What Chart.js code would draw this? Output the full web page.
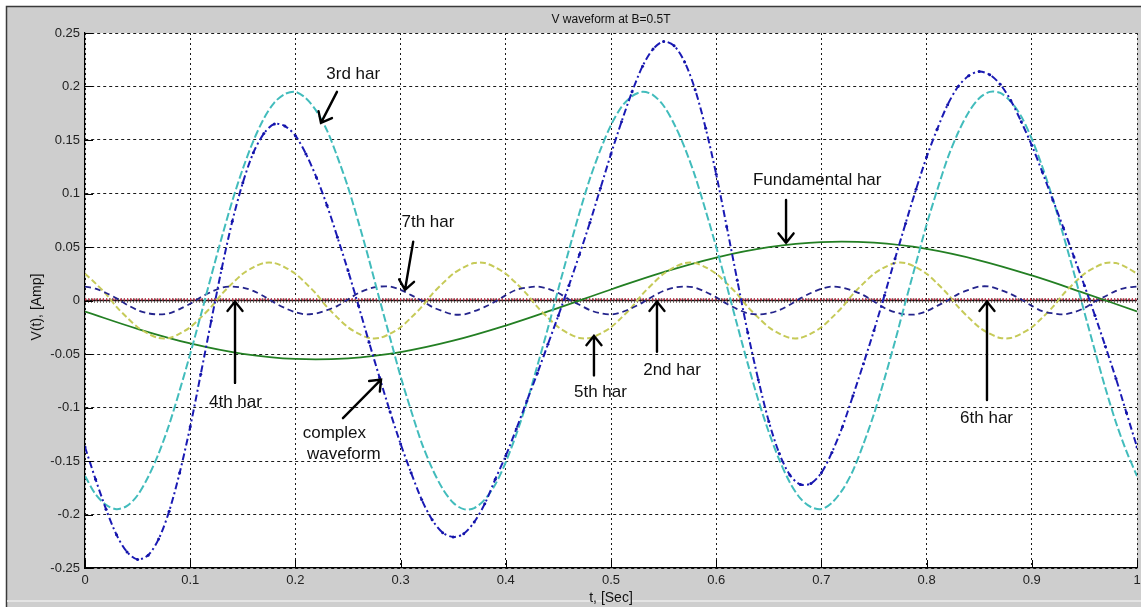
<!DOCTYPE html>
<html>
<head>
<meta charset="utf-8">
<title>V waveform at B=0.5T</title>
<script src="https://cdn.jsdelivr.net/npm/chart.js@4.4.1/dist/chart.umd.min.js"></script>
<style>
  html, body { margin: 0; padding: 0; background: #fff; overflow: hidden; }
  #wrap { position: relative; width: 1141px; height: 607px; }
</style>
</head>
<body>
<div id="wrap"><canvas id="c" width="1141" height="607"></canvas></div>
<script>
// Sample times, seconds
const tFine = [0,0.01,0.02,0.03,0.04,0.05,0.06,0.07,0.08,0.09,0.1,0.11,0.12,0.13,0.14,0.15,0.16,0.17,0.18,0.19,
  0.2,0.21,0.22,0.23,0.24,0.25,0.26,0.27,0.28,0.29,0.3,0.31,0.32,0.33,0.34,0.35,0.36,0.37,0.38,0.39,
  0.4,0.41,0.42,0.43,0.44,0.45,0.46,0.47,0.48,0.49,0.5,0.51,0.52,0.53,0.54,0.55,0.56,0.57,0.58,0.59,
  0.6,0.61,0.62,0.63,0.64,0.65,0.66,0.67,0.68,0.69,0.7,0.71,0.72,0.73,0.74,0.75,0.76,0.77,0.78,0.79,
  0.8,0.81,0.82,0.83,0.84,0.85,0.86,0.87,0.88,0.89,0.9,0.91,0.92,0.93,0.94,0.95,0.96,0.97,0.98,0.99,1];
const tMid = [0,0.05,0.1,0.15,0.2,0.25,0.3,0.35,0.4,0.45,0.5,0.55,0.6,0.65,0.7,0.75,0.8,0.85,0.9,0.95,1];
const tCoarse = [0,0.1,0.2,0.3,0.4,0.5,0.6,0.7,0.8,0.9,1];

// Complex waveform, Amp
const complexWave = [-0.137,-0.167,-0.195,-0.219,-0.235,-0.242,-0.238,-0.223,-0.197,-0.161,
  -0.118,-0.069,-0.019,0.030,0.074,0.110,0.138,0.156,0.165,0.163,
  0.154,0.137,0.115,0.089,0.059,0.028,-0.005,-0.039,-0.072,-0.104,
  -0.134,-0.161,-0.186,-0.205,-0.217,-0.221,-0.218,-0.207,-0.190,-0.167,
  -0.145,-0.120,-0.094,-0.068,-0.041,-0.014,0.014,0.043,0.073,0.105,
  0.137,0.167,0.195,0.219,0.235,0.242,0.238,0.223,0.197,0.161,
  0.118,0.069,0.019,-0.030,-0.074,-0.113,-0.143,-0.163,-0.172,-0.171,
  -0.161,-0.142,-0.118,-0.089,-0.059,-0.028,0.005,0.039,0.072,0.104,
  0.134,0.160,0.183,0.200,0.210,0.214,0.211,0.202,0.187,0.167,
  0.145,0.120,0.094,0.068,0.041,0.014,-0.014,-0.043,-0.073,-0.105,-0.137];

// Fundamental harmonic (on tMid)
const har1 = [-0.0103,-0.0265,-0.0401,-0.0498,-0.0546,-0.0540,-0.0482,-0.0376,-0.0234,-0.0069,
  0.0103,0.0265,0.0401,0.0498,0.0546,0.0540,0.0482,0.0376,0.0234,0.0069,-0.0103];

// 3rd harmonic
const har3 = [-0.164,-0.181,-0.191,-0.195,-0.192,-0.182,-0.165,-0.143,-0.116,-0.084,
  -0.050,-0.014,0.023,0.059,0.093,0.123,0.149,0.170,0.185,0.193,
  0.195,0.189,0.177,0.159,0.134,0.106,0.073,0.038,0.001,-0.035,
  -0.071,-0.103,-0.133,-0.157,-0.176,-0.189,-0.195,-0.194,-0.186,-0.172,
  -0.151,-0.125,-0.095,-0.061,-0.026,0.011,0.047,0.082,0.114,0.141,
  0.164,0.181,0.191,0.195,0.192,0.182,0.165,0.143,0.116,0.084,
  0.050,0.014,-0.023,-0.059,-0.093,-0.123,-0.149,-0.170,-0.185,-0.193,
  -0.195,-0.189,-0.177,-0.159,-0.134,-0.106,-0.073,-0.038,-0.001,0.035,
  0.071,0.103,0.133,0.157,0.176,0.189,0.195,0.194,0.186,0.172,
  0.151,0.125,0.095,0.061,0.026,-0.011,-0.047,-0.082,-0.114,-0.141,-0.164];

// 5th harmonic
const har5 = [0.025,0.016,0.006,-0.006,-0.016,-0.025,-0.031,-0.035,-0.035,-0.031,
  -0.025,-0.016,-0.006,0.006,0.016,0.025,0.031,0.035,0.035,0.031,
  0.025,0.016,0.006,-0.006,-0.016,-0.025,-0.031,-0.035,-0.035,-0.031,
  -0.025,-0.016,-0.006,0.006,0.016,0.025,0.031,0.035,0.035,0.031,
  0.025,0.016,0.006,-0.006,-0.016,-0.025,-0.031,-0.035,-0.035,-0.031,
  -0.025,-0.016,-0.006,0.006,0.016,0.025,0.031,0.035,0.035,0.031,
  0.025,0.016,0.006,-0.006,-0.016,-0.025,-0.031,-0.035,-0.035,-0.031,
  -0.025,-0.016,-0.006,0.006,0.016,0.025,0.031,0.035,0.035,0.031,
  0.025,0.016,0.006,-0.006,-0.016,-0.025,-0.031,-0.035,-0.035,-0.031,
  -0.025,-0.016,-0.006,0.006,0.016,0.025,0.031,0.035,0.035,0.031,0.025];

// 7th harmonic
const har7 = [0.013,0.011,0.007,0.002,-0.004,-0.009,-0.012,-0.013,-0.012,-0.008,
  -0.003,0.003,0.008,0.012,0.013,0.012,0.009,0.004,-0.002,-0.007,
  -0.011,-0.013,-0.012,-0.009,-0.005,0.001,0.007,0.011,0.013,0.013,
  0.010,0.005,0.000,-0.006,-0.010,-0.013,-0.013,-0.010,-0.006,-0.001,
  0.005,0.010,0.012,0.013,0.011,0.007,0.001,-0.004,-0.009,-0.012,
  -0.013,-0.011,-0.007,-0.002,0.004,0.009,0.012,0.013,0.012,0.008,
  0.003,-0.003,-0.008,-0.012,-0.013,-0.012,-0.009,-0.004,0.002,0.007,
  0.011,0.013,0.012,0.009,0.005,-0.001,-0.007,-0.011,-0.013,-0.013,
  -0.010,-0.005,0.000,0.006,0.010,0.013,0.013,0.010,0.006,0.001,
  -0.005,-0.010,-0.012,-0.013,-0.011,-0.007,-0.001,0.004,0.009,0.012,0.013];

// Even harmonics, practically zero
const har2 = [0,0,0,0,0,0,0,0,0,0,0];
const har4 = [0,0,0,0,0,0,0,0,0,0,0];
const har6 = [0.001,0.001,0.001,0.001,0.001,0.001,0.001,0.001,0.001,0.001,0.001];

// Axis limits and tick steps
const xRange = [0, 1], xStep = 0.1;
const yRange = [-0.25, 0.25], yStep = 0.05;

// Labels and arrows, in data units (t, V)
const noteText = ['3rd har', '7th har', 'Fundamental har', '4th har', 'complex', 'waveform', '5th har', '2nd har', '6th har'];
const noteT    = [0.255, 0.326, 0.696, 0.143, 0.237, 0.246, 0.490, 0.558, 0.857];
const noteV    = [0.211, 0.073, 0.112, -0.095, -0.124, -0.144, -0.086, -0.065, -0.110];
const arrowFrom = [[0.2395, 0.195], [0.312, 0.055], [0.6664, 0.094], [0.1426, -0.077], [0.2452, -0.110], [0.4838, -0.070], [0.5437, -0.048], [0.8574, -0.093]];
const arrowTo   = [[0.2243, 0.166], [0.3042, 0.010], [0.6664, 0.054], [0.1426, -0.001], [0.2814, -0.074], [0.4838, -0.033], [0.5437, -0.001], [0.8574, -0.001]];

const FONT = "'Liberation Sans', Arial, Helvetica, sans-serif";
Chart.defaults.font.family = FONT;

const pts = (ts, vs) => ts.map((t, i) => ({ x: t, y: vs[i] }));
const fmt = v => String(+(+v).toFixed(2));

const figurePlugin = {
  id: 'figure',
  beforeDraw(chart) {
    const { ctx, chartArea: a, width, height } = chart;
    ctx.save();
    ctx.fillStyle = '#ffffff';
    ctx.fillRect(0, 0, width, height);
    ctx.fillStyle = '#cecece';
    ctx.fillRect(6, 6, width - 6, height - 6);
    ctx.strokeStyle = '#3a3a3a';
    ctx.lineWidth = 1.5;
    ctx.beginPath();
    ctx.moveTo(6.5, height); ctx.lineTo(6.5, 6.5); ctx.lineTo(width, 6.5);
    ctx.stroke();
    ctx.strokeStyle = '#e4e4e4';
    ctx.lineWidth = 2;
    ctx.beginPath(); ctx.moveTo(7, 601); ctx.lineTo(width, 601); ctx.stroke();
    ctx.fillStyle = '#ffffff';
    ctx.fillRect(a.left, a.top, a.right - a.left, a.bottom - a.top);
    ctx.restore();
  },
  afterDraw(chart) {
    const { ctx, chartArea: a, scales: { x, y } } = chart;
    ctx.save();
    // inward tick marks
    ctx.strokeStyle = '#000';
    ctx.lineWidth = 1;
    ctx.beginPath();
    x.ticks.forEach(tk => {
      const px = Math.round(x.getPixelForValue(tk.value)) + 0.5;
      ctx.moveTo(px, a.bottom); ctx.lineTo(px, a.bottom - 8);
    });
    y.ticks.forEach(tk => {
      const py = Math.round(y.getPixelForValue(tk.value)) + 0.5;
      ctx.moveTo(a.left, py); ctx.lineTo(a.left + 8, py);
    });
    ctx.stroke();
    // title and axis labels
    ctx.fillStyle = '#111';
    ctx.textAlign = 'center';
    ctx.textBaseline = 'middle';
    ctx.font = '12px ' + FONT;
    ctx.fillText('V waveform at B=0.5T', (a.left + a.right) / 2, 20);
    ctx.font = '14px ' + FONT;
    ctx.fillText('t, [Sec]', (a.left + a.right) / 2, 598);
    ctx.translate(37, 307);
    ctx.rotate(-Math.PI / 2);
    ctx.fillText('V(t), [Amp]', 0, 0);
    ctx.restore();
  },
  afterDatasetsDraw(chart) {
    const { ctx, scales: { x, y } } = chart;
    ctx.save();
    ctx.fillStyle = '#111';
    ctx.font = '17px ' + FONT;
    ctx.textAlign = 'center';
    ctx.textBaseline = 'middle';
    noteText.forEach((s, i) => ctx.fillText(s, x.getPixelForValue(noteT[i]), y.getPixelForValue(noteV[i])));
    ctx.strokeStyle = '#000';
    ctx.lineWidth = 2.4;
    ctx.lineCap = 'round';
    arrowFrom.forEach((p, i) => {
      const x0 = x.getPixelForValue(p[0]), y0 = y.getPixelForValue(p[1]);
      const x1 = x.getPixelForValue(arrowTo[i][0]), y1 = y.getPixelForValue(arrowTo[i][1]);
      const ang = Math.atan2(y1 - y0, x1 - x0), L = 12, s = 0.68;
      ctx.beginPath();
      ctx.moveTo(x0, y0); ctx.lineTo(x1, y1);
      ctx.moveTo(x1 - L * Math.cos(ang - s), y1 - L * Math.sin(ang - s));
      ctx.lineTo(x1, y1);
      ctx.lineTo(x1 - L * Math.cos(ang + s), y1 - L * Math.sin(ang + s));
      ctx.stroke();
    });
    ctx.restore();
  }
};

const line = (label, ts, vs, color, width, dash, order, extra) => Object.assign({
  label, data: pts(ts, vs), borderColor: color, backgroundColor: color,
  borderWidth: width, borderDash: dash, pointRadius: 0, tension: 0.3,
  fill: false, order
}, extra || {});

new Chart(document.getElementById('c'), {
  type: 'line',
  data: {
    datasets: [
      line('complex waveform', tFine, complexWave, '#1a1ab4', 2, [7, 3, 2, 3], 0,
        { pointRadius: 1.5, pointBorderWidth: 0, pointBackgroundColor: '#1414a8' }),
      line('3rd har', tFine, har3, '#42bcbc', 2, [8, 3], 1),
      line('7th har', tFine, har7, '#24248c', 1.8, [6, 4], 2),
      line('5th har', tFine, har5, '#c6ca58', 2, [6, 3], 3),
      line('Fundamental har', tMid, har1, '#237f23', 1.8, [], 4, { tension: 0.4 }),
      line('6th har', tCoarse, har6, '#d2304a', 2, [1.5, 2], 5, { tension: 0 }),
      line('2nd har', tCoarse, har2, '#111111', 1.5, [], 6, { tension: 0 }),
      line('4th har', tCoarse, har4, 'rgba(95,75,70,0.75)', 5, [1, 2], 7, { tension: 0 })
    ]
  },
  options: {
    responsive: false,
    animation: false,
    devicePixelRatio: 1,
    layout: { padding: { top: 33, right: 0, bottom: 0, left: 0 } },
    plugins: { legend: { display: false }, tooltip: { enabled: false }, title: { display: false } },
    scales: {
      x: {
        type: 'linear', min: xRange[0], max: xRange[1],
        ticks: { stepSize: xStep, padding: 5, color: '#222', font: { size: 13 }, maxRotation: 0, autoSkip: false, callback: fmt },
        grid: { color: '#1a1a1a', lineWidth: 1, drawTicks: false },
        border: { display: true, color: '#000', width: 1.2, dash: [2, 3] },
        afterFit(s) { s.height = 39; s.paddingRight = 4; }
      },
      y: {
        type: 'linear', min: yRange[0], max: yRange[1],
        ticks: { stepSize: yStep, padding: 5, color: '#222', font: { size: 13 }, autoSkip: false, callback: fmt },
        grid: { color: '#1a1a1a', lineWidth: 1, drawTicks: false },
        border: { display: true, color: '#000', width: 1.2, dash: [3, 3] },
        afterFit(s) { s.width = 85; }
      }
    }
  },
  plugins: [figurePlugin]
});
</script>
</body>
</html>
